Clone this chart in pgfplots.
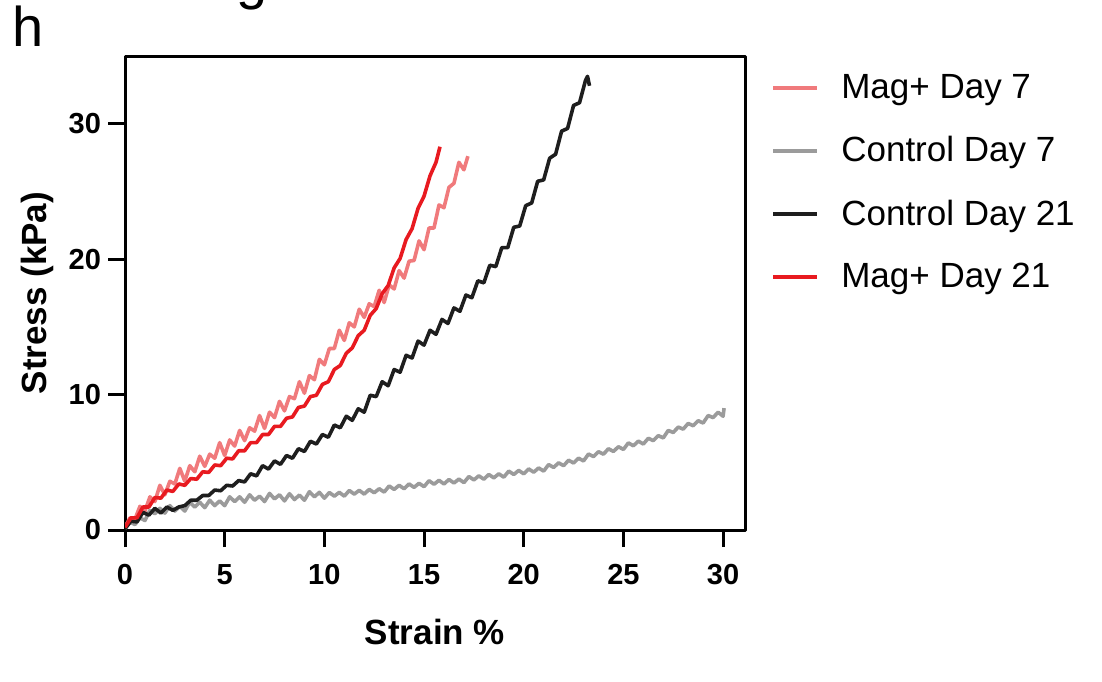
\documentclass[border=0pt]{standalone}
\usepackage{fontspec}
\setmainfont{Liberation Sans}
\usepackage{pgfplots}
\pgfplotsset{compat=1.18}
\definecolor{magseven}{RGB}{240,122,124}
\definecolor{magtwentyone}{RGB}{232,26,32}
\definecolor{ctrlseven}{RGB}{155,155,155}
\definecolor{ctrltwentyone}{RGB}{30,30,30}
\begin{document}
\begin{tikzpicture}
\useasboundingbox (0,0) rectangle (551pt,340.5pt);
\fill[white] (0,0) rectangle (551pt,340.5pt);
\node[anchor=base west, inner sep=0pt, font=\fontsize{28}{28}\selectfont] at (6pt,317pt) {h};
\node[anchor=base, inner sep=0pt, font=\fontsize{28}{28}\selectfont] at (126pt,341pt) {g};
\begin{axis}[
  at={(62.5pt,75.5pt)}, anchor=south west,
  scale only axis, width=310pt, height=237pt,
  xmin=0, xmax=31.1, ymin=0, ymax=35,
  xtick={0,5,...,30}, ytick={0,10,20,30},
  axis line style={line width=1.5pt, black},
  every tick/.style={line width=1.5pt, black},
  major tick length=8.5pt,
  tick align=outside,
  xtick pos=bottom, ytick pos=left,
  ticklabel style={font=\bfseries\fontsize{14.5}{14.5}\selectfont},
  /pgf/number format/assume math mode=true,
  xticklabel style={yshift=-5pt},
  xlabel={\bfseries Strain \%},
  ylabel={\bfseries Stress (kPa)},
  label style={font=\bfseries\fontsize{17.5}{17.5}\selectfont},
  xlabel style={at={(axis description cs:0.5,-0.2426)}, anchor=base},
  ylabel style={at={(axis description cs:-0.1274,0.5)}, anchor=base},
  legend style={at={(axis description cs:1.0418,0.733)}, anchor=west, draw=none, fill=none,
    inner sep=0pt, row sep=17.5pt, column sep=11pt,
    font=\fontsize{17.5}{17.5}\selectfont, nodes={inner sep=0pt}},
  legend cell align=left,
  legend image code/.code={\draw[#1, line width=2pt] (0pt,0pt) -- (22pt,0pt);},
  line join=round,
]
\addplot[magseven, line width=1.8pt] coordinates {
(0,0.2) (0.25,0.9) (0.5,0.8) (0.75,1.75) (1.0,1.4) (1.25,2.45) (1.5,2.1) (1.75,3.3) (2.0,2.6)
(2.25,3.6) (2.5,3.4) (2.75,4.55) (3.0,3.6) (3.25,4.75) (3.5,4.3) (3.75,5.45) (4.0,4.7)
(4.25,5.6) (4.5,5.3) (4.75,6.45) (5.0,5.5) (5.25,6.65) (5.5,6.2) (5.75,7.35) (6.0,6.6)
(6.25,7.55) (6.5,7.3) (6.75,8.45) (7.0,7.5) (7.25,8.7) (7.5,8.3) (7.75,9.5) (8.0,8.8)
(8.25,9.85) (8.5,9.7) (8.75,10.95) (9.0,10.1) (9.25,11.4) (9.5,11.1) (9.75,12.6) (10.0,12.2)
(10.25,13.4) (10.5,13.4) (10.75,14.75) (11.0,14.0) (11.25,15.3) (11.5,15.0) (11.75,16.3)
(12.0,15.7) (12.25,16.7) (12.5,16.5) (12.75,17.7) (13.0,16.8) (13.25,18.1) (13.5,17.8)
(13.75,19.15) (14.0,18.6) (14.25,19.85) (14.5,19.9) (14.75,21.35) (15.0,20.7) (15.25,22.3)
(15.5,22.3) (15.75,24.0) (16.0,23.8) (16.25,25.3) (16.5,25.6) (16.75,27.15) (17.0,26.6) (17.2,27.6)
};
\addlegendentry{Mag+ Day 7}
\addplot[ctrlseven, line width=1.8pt] coordinates {
(0,0.1) (0.25,0.6) (0.5,0.4) (0.75,0.9) (1.0,0.7) (1.25,1.45) (1.5,1.2) (1.75,1.6) (2.0,1.25)
(2.25,1.8) (2.5,1.4) (2.75,1.75) (3.0,1.4) (3.25,2.05) (3.5,1.7) (3.75,2.05) (4.0,1.65)
(4.25,2.2) (4.5,1.8) (4.75,2.15) (5.0,1.8) (5.25,2.45) (5.5,2.1) (5.75,2.45) (6.0,2.05)
(6.25,2.6) (6.5,2.2) (6.75,2.5) (7.0,2.1) (7.25,2.7) (7.5,2.3) (7.75,2.6) (8.0,2.15)
(8.25,2.68) (8.5,2.25) (8.75,2.58) (9.0,2.2) (9.25,2.83) (9.5,2.45) (9.75,2.78) (10.0,2.35)
(10.25,2.77) (10.5,2.5) (10.75,2.78) (11.0,2.5) (11.25,2.92) (11.5,2.65) (11.75,2.93) (12.0,2.65)
(12.25,3.0) (12.5,2.75) (12.75,3.05) (13.0,2.8) (13.25,3.25) (13.5,3.0) (13.75,3.3) (14.0,3.05)
(14.25,3.4) (14.5,3.15) (14.75,3.45) (15.0,3.2) (15.25,3.64) (15.5,3.38) (15.75,3.67) (16.0,3.4)
(16.25,3.73) (16.5,3.47) (16.75,3.76) (17.0,3.5) (17.25,3.95) (17.5,3.7) (17.75,4.0) (18.0,3.75)
(18.25,4.1) (18.5,3.85) (18.75,4.15) (19.0,3.9) (19.25,4.35) (19.5,4.1) (19.75,4.4) (20.0,4.15)
(20.25,4.51) (20.5,4.27) (20.75,4.58) (21.0,4.35) (21.25,4.83) (21.5,4.62) (21.75,4.96) (22.0,4.75)
(22.25,5.15) (22.5,4.95) (22.75,5.3) (23.0,5.1) (23.25,5.61) (23.5,5.42) (23.75,5.78) (24.0,5.6)
(24.25,6.0) (24.5,5.8) (24.75,6.15) (25.0,5.95) (25.25,6.43) (25.5,6.22) (25.75,6.56) (26.0,6.35)
(26.25,6.77) (26.5,6.6) (26.75,6.97) (27.0,6.8) (27.25,7.35) (27.5,7.2) (27.75,7.6) (28.0,7.45)
(28.25,7.87) (28.5,7.7) (28.75,8.07) (29.0,7.9) (29.25,8.45) (29.5,8.3) (29.75,8.7) (30.0,8.4) (30.05,9.0)
};
\addlegendentry{Control Day 7}
\addplot[ctrltwentyone, line width=1.8pt] coordinates {
(0,0.1) (0.3,0.65) (0.6,0.6) (0.9,1.3) (1.2,1.1) (1.5,1.6) (1.8,1.25) (2.1,1.7) (2.4,1.45)
(2.7,1.7) (3.0,1.8) (3.3,2.2) (3.6,2.2) (3.9,2.55) (4.2,2.55) (4.5,2.95) (4.8,2.9) (5.1,3.3)
(5.4,3.25) (5.7,3.65) (6.0,3.55) (6.3,4.15) (6.6,4.0) (6.9,4.75) (7.2,4.5) (7.5,5.1) (7.8,4.85)
(8.1,5.5) (8.4,5.3) (8.7,6.0) (9.0,5.8) (9.3,6.55) (9.6,6.35) (9.9,7.05) (10.2,6.85) (10.5,7.75)
(10.8,7.55) (11.1,8.4) (11.4,8.1) (11.7,8.95) (12.0,8.7) (12.3,9.95) (12.6,9.85) (12.9,10.95)
(13.2,10.65) (13.5,11.85) (13.8,11.65) (14.1,12.9) (14.4,12.7) (14.7,13.95) (15.0,13.65)
(15.3,14.75) (15.6,14.45) (15.9,15.55) (16.2,15.25) (16.5,16.4) (16.8,16.15) (17.1,17.35)
(17.4,17.15) (17.7,18.4) (18.0,18.25) (18.3,19.55) (18.6,19.45) (18.9,20.85) (19.2,20.85)
(19.5,22.35) (19.8,22.45) (20.1,23.95) (20.4,24.15) (20.7,25.75) (21.0,25.85) (21.3,27.45)
(21.6,27.75) (21.9,29.45) (22.2,29.65) (22.5,31.35) (22.8,31.55) (23.1,33.2) (23.2,33.5) (23.3,32.8)
};
\addlegendentry{Control Day 21}
\addplot[magtwentyone, line width=1.8pt] coordinates {
(0,0.2) (0.3,0.9) (0.6,0.9) (0.9,1.7) (1.2,1.7) (1.5,2.4) (1.8,2.35) (2.1,2.95) (2.4,2.85)
(2.7,3.4) (3.0,3.3) (3.3,3.8) (3.6,3.75) (3.9,4.3) (4.2,4.25) (4.5,4.8) (4.8,4.75) (5.1,5.3)
(5.4,5.25) (5.7,5.85) (6.0,5.85) (6.3,6.45) (6.6,6.45) (6.9,7.05) (7.2,7.05) (7.5,7.65)
(7.8,7.65) (8.1,8.25) (8.4,8.35) (8.7,9.05) (9.0,9.15) (9.3,9.85) (9.6,9.95) (9.9,10.75)
(10.2,10.95) (10.5,11.85) (10.8,12.15) (11.1,13.05) (11.4,13.45) (11.7,14.35) (12.0,14.75)
(12.3,15.85) (12.6,16.35) (12.9,17.45) (13.2,18.05) (13.5,19.35) (13.8,20.05) (14.1,21.45)
(14.4,22.25) (14.7,23.75) (15.0,24.65) (15.3,26.15) (15.6,27.15) (15.8,28.3)
};
\addlegendentry{Mag+ Day 21}
\end{axis}
\end{tikzpicture}
\end{document}
